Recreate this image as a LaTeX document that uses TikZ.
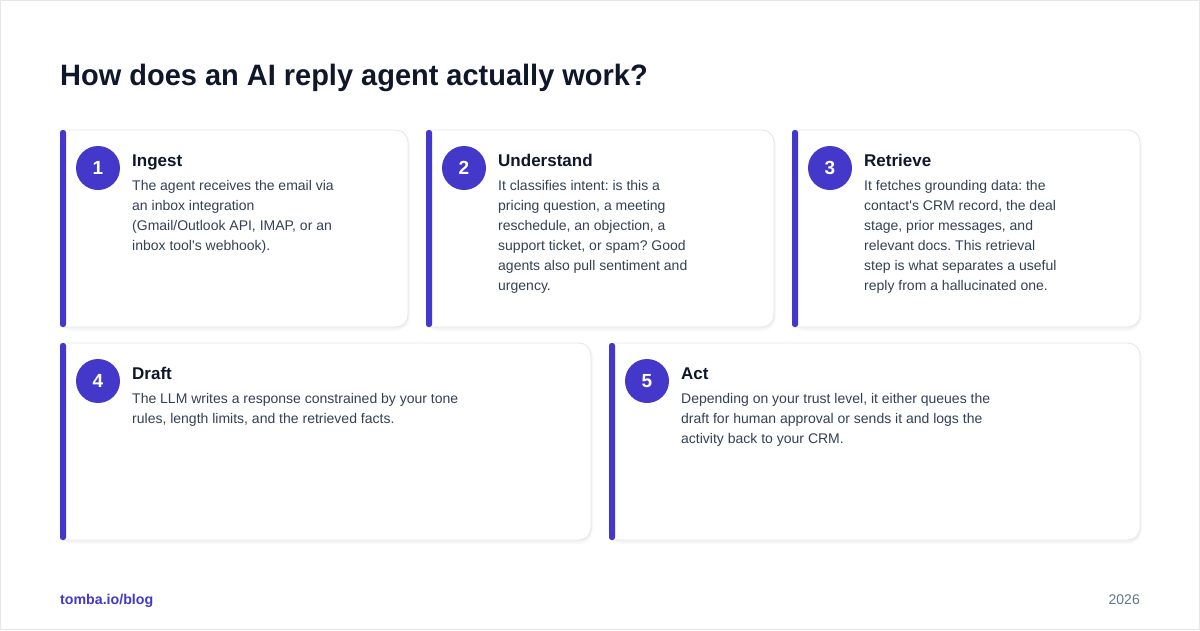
\documentclass[tikz,border=0pt]{standalone}
\usepackage{fontspec}
\setmainfont{Liberation Sans}
\frenchspacing
\definecolor{accent}{HTML}{4338CA}
\definecolor{ink}{HTML}{0F172A}
\definecolor{bodytxt}{HTML}{334155}
\definecolor{muted}{HTML}{64748B}
\definecolor{cardline}{HTML}{E5E7EB}
\tikzset{
  cardbox/.style={draw=cardline, line width=0.9pt, fill=white},
  cardshadow/.style={fill=black, fill opacity=0.025, draw=none},
  accentbar/.style={fill=accent, draw=none, rounded corners=2.5pt},
  badge/.style={circle, fill=accent, minimum size=44pt, inner sep=0pt, text=white, font=\fontsize{19}{19}\selectfont\bfseries},
  ctitle/.style={anchor=base west, inner sep=0pt, text=ink, font=\fontsize{17}{20}\selectfont\bfseries},
  cbody/.style={anchor=north west, inner sep=0pt, align=left, text=bodytxt, font=\fontsize{14}{20}\selectfont\frenchspacing},
}
\begin{document}
\begin{tikzpicture}[x=1pt, y=-1pt]
\useasboundingbox (0,0) rectangle (1200,630);
\fill[white] (0,0) rectangle (1200,630);
\draw[cardline, line width=1pt] (0.5,0.5) rectangle (1199.5,629.5);

\node[anchor=base west, inner sep=0pt, text=ink, font=\fontsize{29.5}{30}\selectfont\bfseries, xscale=0.982] (heading) at (60,85) {How does an AI reply agent actually work?};

% ---- cards (shadows)
\foreach \a/\b/\c/\d in {60/130/408/327, 426/130/774/327, 792/130/1140/327, 60/343/591/540, 609/343/1140/540}{
  \fill[cardshadow, rounded corners=14] (\a-1,\b+1) rectangle (\c+2,\d+4);
  \fill[cardshadow, rounded corners=13] (\a,\b+1) rectangle (\c+1,\d+2.5);
}

% card 1
\path[cardbox] (63,130) [rounded corners=12] -- (408,130) -- (408,327) [sharp corners] -- (63,327) -- cycle;
\coordinate (card1) at (60,130);
\fill[accentbar] (60,130) rectangle (66,327);
\node[badge] (badge1) at (98,168) {1};
\node[ctitle] (title1) at (132,166) {Ingest};
\node[cbody] (body1) at (132,180) {The agent receives the email via\\an inbox integration\\(Gmail/Outlook API, IMAP, or an\\inbox tool\textquotesingle s webhook).};

% card 2
\path[cardbox] (429,130) [rounded corners=12] -- (774,130) -- (774,327) [sharp corners] -- (429,327) -- cycle;
\coordinate (card2) at (426,130);
\fill[accentbar] (426,130) rectangle (432,327);
\node[badge] (badge2) at (464,168) {2};
\node[ctitle] (title2) at (498,166) {Understand};
\node[cbody] (body2) at (498,180) {It classifies intent: is this a\\pricing question, a meeting\\reschedule, an objection, a\\support ticket, or spam? Good\\agents also pull sentiment and\\urgency.};

% card 3
\path[cardbox] (795,130) [rounded corners=12] -- (1140,130) -- (1140,327) [sharp corners] -- (795,327) -- cycle;
\coordinate (card3) at (792,130);
\fill[accentbar] (792,130) rectangle (798,327);
\node[badge] (badge3) at (830,168) {3};
\node[ctitle] (title3) at (864,166) {Retrieve};
\node[cbody] (body3) at (864,180) {It fetches grounding data: the\\contact\textquotesingle s CRM record, the deal\\stage, prior messages, and\\relevant docs. This retrieval\\step is what separates a useful\\reply from a hallucinated one.};

% card 4
\path[cardbox] (63,343) [rounded corners=12] -- (591,343) -- (591,540) [sharp corners] -- (63,540) -- cycle;
\coordinate (card4) at (60,343);
\fill[accentbar] (60,343) rectangle (66,540);
\node[badge] (badge4) at (98,381) {4};
\node[ctitle] (title4) at (132,379) {Draft};
\node[cbody] (body4) at (132,393) {The LLM writes a response constrained by your tone\\rules, length limits, and the retrieved facts.};

% card 5
\path[cardbox] (612,343) [rounded corners=12] -- (1140,343) -- (1140,540) [sharp corners] -- (612,540) -- cycle;
\coordinate (card5) at (609,343);
\fill[accentbar] (609,343) rectangle (615,540);
\node[badge] (badge5) at (647,381) {5};
\node[ctitle] (title5) at (681,379) {Act};
\node[cbody] (body5) at (681,393) {Depending on your trust level, it either queues the\\draft for human approval or sends it and logs the\\activity back to your CRM.};

% footer
\node[anchor=base west, inner sep=0pt, text=accent, font=\fontsize{14.2}{16}\selectfont\bfseries] (footl) at (60,604) {tomba.io/blog};
\node[anchor=base east, inner sep=0pt, text=muted, font=\fontsize{14}{16}\selectfont] (footr) at (1140,604) {2026};
\end{tikzpicture}
\end{document}
